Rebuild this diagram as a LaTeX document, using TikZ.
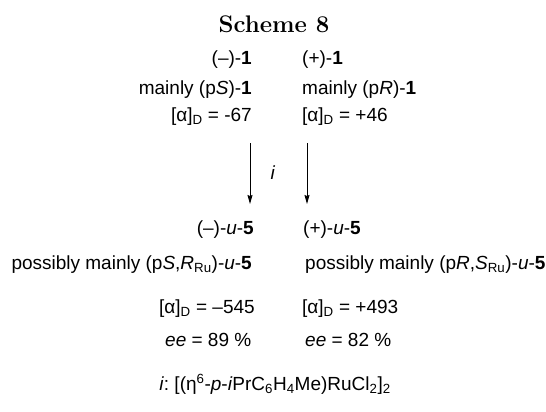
\documentclass[tikz,border=0pt]{standalone}
\usepackage{fontspec}
\setsansfont{Liberation Sans}
\usepackage{tikz}
\usetikzlibrary{arrows.meta}
\frenchspacing

\newcommand{\rot}{[α]\textsubscript{D}}

\begin{document}
\begin{tikzpicture}[x=1pt,y=-1pt,>={Stealth[length=9pt,width=5pt,inset=1pt]},
 every node/.style={font=\sffamily\fontsize{19}{22}\selectfont,inner sep=0pt},
 lft/.style={anchor=base east},
 rgt/.style={anchor=base west}]
 \useasboundingbox (0,0) rectangle (546,412);
 \node[anchor=base,font=\rmfamily\bfseries\fontsize{24}{28}\selectfont] (title) at (274,33) {Scheme 8};
 % starting material
 \node[lft] (m1) at (252,64) {(–)-\textbf{1}};
 \node[rgt] (p1) at (302,64) {(+)-\textbf{1}};
 \node[lft] (mS) at (252,94) {mainly (p\textit{S})-\textbf{1}};
 \node[rgt] (pR) at (302,94) {mainly (p\textit{R})-\textbf{1}};
 \node[lft] (mrot) at (252,121) {\rot{} = -67};
 \node[rgt] (prot) at (302,121) {\rot{} = +46};
 % arrows
 \coordinate (la) at (250,143);
 \coordinate (lb) at (250,204);
 \coordinate (ra) at (307,143);
 \coordinate (rb) at (307,204);
 \draw[->,line width=0.8pt] (la) -- (lb);
 \draw[->,line width=0.8pt] (ra) -- (rb);
 \node (cond) at (273,173) {\textit{i}};
 % products
 \node[lft] (m5) at (254,234) {(–)-\textit{u}-\textbf{5}};
 \node[rgt] (p5) at (303,234) {(+)-\textit{u}-\textbf{5}};
 \node[lft] (mSR) at (252,269) {possibly mainly (p\textit{S},\textit{R}\textsubscript{Ru})-\textit{u}-\textbf{5}};
 \node[rgt] (pRS) at (305,269) {possibly mainly (p\textit{R},\textit{S}\textsubscript{Ru})-\textit{u}-\textbf{5}};
 \node[rgt] (mrot5) at (159,313) {\rot{} = –545};
 \node[rgt] (prot5) at (302,313) {\rot{} = +493};
 \node[rgt] (mee) at (165,346) {\textit{ee} = 89 \%};
 \node[rgt] (pee) at (305,346) {\textit{ee} = 82 \%};
 % reagent
 \node[anchor=base] (reag) at (275,390) {\textit{i}: [(η\textsuperscript{6}-\textit{p}-\textit{i}PrC\textsubscript{6}H\textsubscript{4}Me)RuCl\textsubscript{2}]\textsubscript{2}};
\end{tikzpicture}
\end{document}
